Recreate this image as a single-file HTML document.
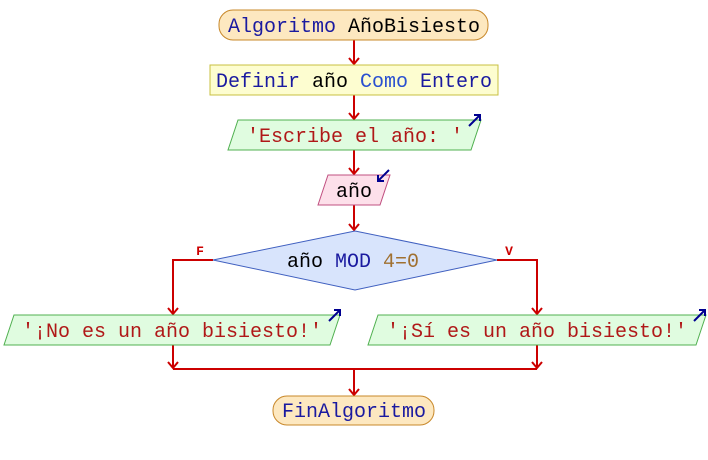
<!DOCTYPE html>
<html><head><meta charset="utf-8"><style>body{margin:0;background:#fff}svg{display:block}text{font-family:"Liberation Mono",monospace;font-size:20px}</style></head><body>
<svg width="708" height="460" viewBox="0 0 708 460" xmlns="http://www.w3.org/2000/svg">
<defs><marker id="a" markerWidth="10" markerHeight="12" refX="7" refY="6" orient="auto" markerUnits="userSpaceOnUse"><path d="M1,1 L7,6 L1,11" fill="none" stroke="#cc0000" stroke-width="2"/></marker></defs>
<g stroke="#cc0000" stroke-width="2" fill="none">
<line x1="354" y1="40" x2="354" y2="64" marker-end="url(#a)"/>
<line x1="354" y1="95" x2="354" y2="119" marker-end="url(#a)"/>
<line x1="354" y1="150" x2="354" y2="174" marker-end="url(#a)"/>
<line x1="354" y1="205" x2="354" y2="230" marker-end="url(#a)"/>
<polyline points="213,260 173,260 173,314" marker-end="url(#a)"/>
<polyline points="497,260 537,260 537,314" marker-end="url(#a)"/>
<line x1="173" y1="345" x2="173" y2="368" marker-end="url(#a)"/>
<line x1="537" y1="345" x2="537" y2="368" marker-end="url(#a)"/>
<line x1="173" y1="369" x2="537" y2="369"/>
<line x1="354" y1="369" x2="354" y2="395" marker-end="url(#a)"/>
</g>
<rect x="219" y="10" width="269" height="30" rx="14" fill="#fde8c0" stroke="#c8882a"/>
<rect x="210" y="65" width="288" height="30" fill="#fdfdd0" stroke="#c8c040"/>
<polygon points="238,120 481,120 471,150 228,150" fill="#e0fce0" stroke="#50b050"/>
<polygon points="328,175 390,175 380,205 318,205" fill="#fde0ea" stroke="#c05080"/>
<polygon points="355,231 497,260 355,290 213,260" fill="#d8e4fc" stroke="#4060c0"/>
<polygon points="14,315 340,315 330,345 4,345" fill="#e0fce0" stroke="#50b050"/>
<polygon points="378,315 706,315 696,345 368,345" fill="#e0fce0" stroke="#50b050"/>
<rect x="273" y="396" width="161" height="29" rx="14" fill="#fde8c0" stroke="#c8882a"/>
<g stroke="#000090" stroke-width="2" fill="none">
<path d="M469,126 L480,115 M474,115 L480,115 L480,121"/>
<path d="M378,181 L389,170 M378,175 L378,181 L384,181"/>
<path d="M329,321 L340,310 M334,310 L340,310 L340,316"/>
<path d="M694,321 L705,310 M699,310 L705,310 L705,316"/>
</g>
<text x="354" y="32" text-anchor="middle" fill="#1a1aa0">Algoritmo <tspan fill="#000">AñoBisiesto</tspan></text>
<text x="354" y="87" text-anchor="middle" fill="#1a1aa0">Definir <tspan fill="#000">año</tspan> <tspan fill="#2a50d0">Como</tspan> Entero</text>
<text x="355" y="142" text-anchor="middle" fill="#b01818">'Escribe el año: '</text>
<text x="354" y="197" text-anchor="middle" fill="#000">año</text>
<text x="353" y="267" text-anchor="middle" fill="#000">año <tspan fill="#1a1aa0">MOD</tspan> <tspan fill="#a07030">4=0</tspan></text>
<text x="172" y="337" text-anchor="middle" fill="#b01818">'¡No es un año bisiesto!'</text>
<text x="537" y="337" text-anchor="middle" fill="#b01818">'¡Sí es un año bisiesto!'</text>
<text x="354" y="417" text-anchor="middle" fill="#1a1aa0">FinAlgoritmo</text>
<text x="200" y="255" text-anchor="middle" fill="#cc0000" style="font-size:13px;font-weight:bold">F</text>
<text x="509" y="255" text-anchor="middle" fill="#cc0000" style="font-size:13px;font-weight:bold">V</text>
</svg>
</body></html>
